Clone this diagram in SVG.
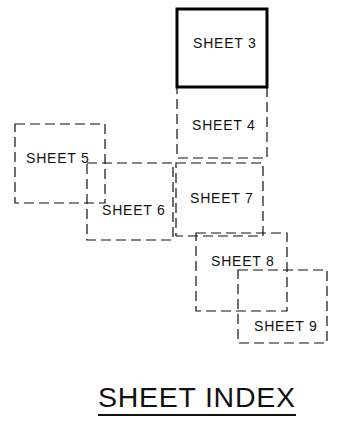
<svg xmlns="http://www.w3.org/2000/svg" width="343" height="424" viewBox="0 0 343 424">
<style>
.d{fill:none;stroke:#111;stroke-width:1.2;stroke-dasharray:10 5}
.s{fill:none;stroke:#000;stroke-width:3}
.t{font-family:"Liberation Sans",Arial,sans-serif;font-size:14px;fill:#111;letter-spacing:0.8px}
.h{font-family:"Liberation Sans",Arial,sans-serif;font-size:28.5px;fill:#111}
</style>
<rect width="343" height="424" fill="#fff"/>
<g id="sheet4"><rect class="d" x="177" y="87" width="90" height="71"/><text class="t" x="192" y="130">SHEET 4</text></g>
<g id="sheet5"><rect class="d" x="15" y="124" width="90" height="79"/><text class="t" x="26" y="163">SHEET 5</text></g>
<g id="sheet6"><rect class="d" x="87" y="163" width="86" height="77"/><text class="t" x="102" y="215">SHEET 6</text></g>
<g id="sheet7"><rect class="d" x="176" y="163" width="87" height="73"/><text class="t" x="190" y="203">SHEET 7</text></g>
<g id="sheet8"><rect class="d" x="196" y="233" width="91" height="78"/><text class="t" x="211" y="266">SHEET 8</text></g>
<g id="sheet9"><rect class="d" x="238" y="270" width="89" height="73"/><text class="t" x="254" y="331">SHEET 9</text></g>
<g id="sheet3"><rect class="s" x="177" y="9" width="90" height="78"/><text class="t" x="193" y="48">SHEET 3</text></g>
<g id="title"><text class="h" x="98" y="407" textLength="197">SHEET INDEX</text><line x1="98" y1="415" x2="296" y2="415" stroke="#111" stroke-width="2"/></g>
</svg>
